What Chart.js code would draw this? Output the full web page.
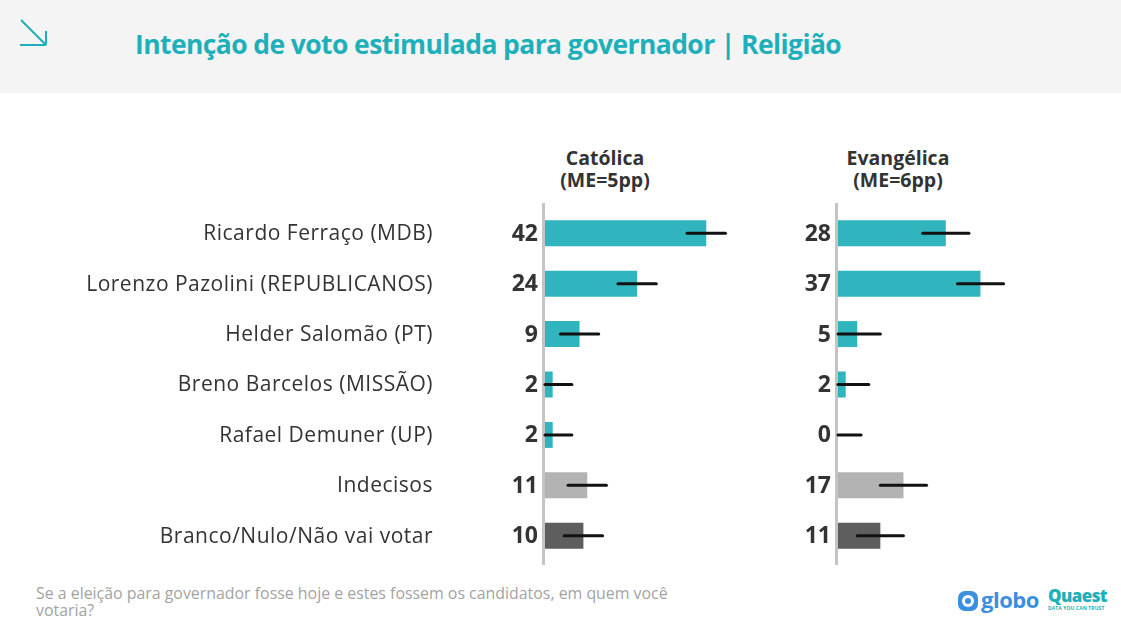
<!DOCTYPE html>
<html>
<head>
<meta charset="utf-8">
<script src="https://cdn.jsdelivr.net/npm/chart.js@4"></script>
<style>
  body { margin: 0; width: 1121px; height: 632px; background: #fff; position: relative; overflow: hidden; font-family: "Open Sans", sans-serif; }
  .band { position: absolute; left: 0; top: 0; width: 1121px; height: 93px; background: #f4f4f4; }
  .title { position: absolute; left: 135px; top: 26px; font-size: 26.5px; font-weight: 700; color: #1eb0ba; letter-spacing: -0.6px; white-space: nowrap; }
  .arrow { position: absolute; left: 18px; top: 18px; }
  .head { position: absolute; top: 147px; width: 200px; text-align: center; font-size: 19.5px; font-weight: 700; color: #333; line-height: 22px; }
  .foot { position: absolute; left: 36px; top: 585px; font-size: 15.9px; color: #a3a3a3; line-height: 17px; width: 650px; }
  canvas { position: absolute; }
  .globo { position: absolute; left: 958px; top: 584px; font-size: 22px; font-weight: 700; color: #3b8fe0; letter-spacing: -0.5px; }
  .globo .ic { display: inline-block; width: 20px; height: 20px; background: #3b8fe0; border-radius: 7px; vertical-align: -3px; margin-right: 3px; position: relative; }
  .globo .ic:after { content: ""; position: absolute; left: 4px; top: 4px; width: 12px; height: 12px; border-radius: 50%; background: #fff; }
  .globo .ic:before { content: ""; position: absolute; left: 7px; top: 7px; width: 6px; height: 6px; border-radius: 50%; background: #3b8fe0; z-index: 2; }
  .quaest { position: absolute; left: 1048px; top: 587px; font-size: 17px; font-weight: 800; color: #1eb0ba; letter-spacing: -0.6px; line-height: 18px; }
  .quaest small { display: block; font-size: 5px; font-weight: 700; letter-spacing: 0.1px; line-height: 6px; }
</style>
</head>
<body>
<div class="band"></div>
<svg class="arrow" width="32" height="32">
  <path d="M3 2 L27 26 M2 27 L28 27 M28 13 L28 27" stroke="#1eb0ba" stroke-width="2" fill="none"/>
</svg>
<div class="title">Intenção de voto estimulada para governador | Religião</div>
<div class="head" style="left:505px">Católica<br>(ME=5pp)</div>
<div class="head" style="left:798px">Evangélica<br>(ME=6pp)</div>
<canvas id="c1" width="760" height="375" style="left:0;top:195px;width:760px;height:375px"></canvas>
<canvas id="c2" width="361" height="375" style="left:760px;top:195px;width:361px;height:375px"></canvas>
<div class="foot">Se a eleição para governador fosse hoje e estes fossem os candidatos, em quem você votaria?</div>
<div class="globo"><span class="ic"></span>globo</div>
<div class="quaest">Quaest<small>DATA YOU CAN TRUST</small></div>
<script>
const categories = [
  "Ricardo Ferraço (MDB)",
  "Lorenzo Pazolini (REPUBLICANOS)",
  "Helder Salomão (PT)",
  "Breno Barcelos (MISSÃO)",
  "Rafael Demuner (UP)",
  "Indecisos",
  "Branco/Nulo/Não vai votar"
];
const catolica = [42, 24, 9, 2, 2, 11, 10];
const evangelica = [28, 37, 5, 2, 0, 17, 11];
const meCatolica = 5;
const meEvangelica = 6;
const barColors = ["#30b5be", "#30b5be", "#30b5be", "#30b5be", "#30b5be", "#b3b3b3", "#5e5e5e"];

// axis line, error bars, values and (for the first panel) the names
const extras = {
  id: "extras",
  afterDatasetsDraw(chart, args, opts) {
    const ctx = chart.ctx;
    const xs = chart.scales.x;
    const ys = chart.scales.y;
    const area = chart.chartArea;
    ctx.save();
    ctx.strokeStyle = "#c4c4c4";
    ctx.lineWidth = 3;
    ctx.beginPath();
    ctx.moveTo(area.left - 1.5, area.top - 5);
    ctx.lineTo(area.left - 1.5, area.bottom + 4);
    ctx.stroke();

    const data = chart.data.datasets[0].data;
    data.forEach((v, i) => {
      const y = ys.getPixelForValue(i);
      const x0 = xs.getPixelForValue(Math.max(0, v - opts.me));
      const x1 = xs.getPixelForValue(v + opts.me);
      ctx.strokeStyle = "#111";
      ctx.lineWidth = 3;
      ctx.lineCap = "round";
      ctx.beginPath();
      ctx.moveTo(Math.max(x0, area.left - 2), y);
      ctx.lineTo(x1, y);
      ctx.stroke();

      ctx.fillStyle = "#333";
      ctx.textAlign = "right";
      ctx.textBaseline = "middle";
      ctx.font = "bold 23px 'Open Sans'";
      ctx.fillText(String(v), area.left - 7, y + 1);

      if (opts.names) {
        ctx.font = "21px 'Open Sans'";
        ctx.letterSpacing = "0.5px";
        ctx.fillText(chart.data.labels[i], 433, y + 1);
        ctx.letterSpacing = "0px";
      }
    });
    ctx.restore();
  }
};

function makeChart(id, values, me, left, xMax, names) {
  return new Chart(document.getElementById(id), {
    type: "bar",
    data: {
      labels: categories,
      datasets: [{
        data: values,
        backgroundColor: barColors,
        barPercentage: 0.515,
        categoryPercentage: 1
      }]
    },
    options: {
      indexAxis: "y",
      responsive: false,
      animation: false,
      layout: { padding: { top: 13, bottom: 9, left: left, right: 0 } },
      plugins: {
        legend: { display: false },
        tooltip: { enabled: false },
        extras: { me: me, names: names }
      },
      scales: {
        x: { display: false, min: 0, max: xMax },
        y: { display: false }
      }
    },
    plugins: [extras]
  });
}

makeChart("c1", catolica, meCatolica, 545, 56, true);
makeChart("c2", evangelica, meEvangelica, 78, 73.5, false);
</script>
</body>
</html>
